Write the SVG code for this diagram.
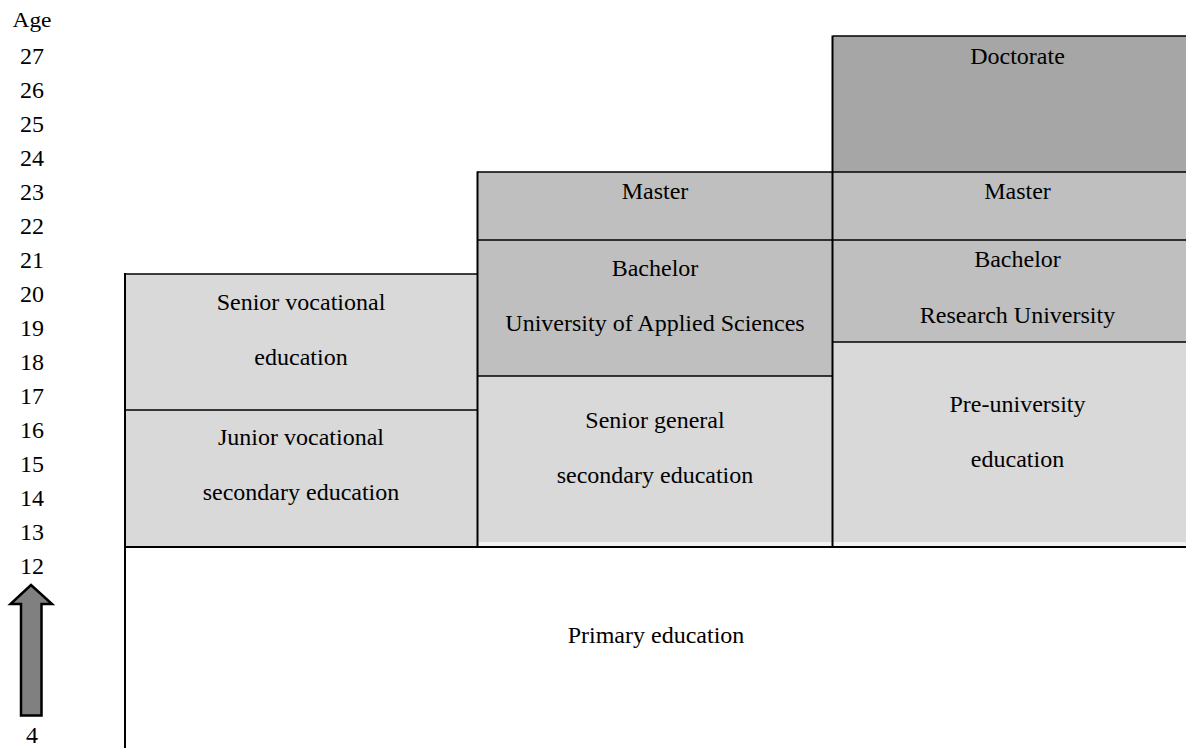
<svg xmlns="http://www.w3.org/2000/svg" width="1186" height="748" viewBox="0 0 1186 748">
  <style>
    .t { font-family: 'Liberation Serif', 'Times New Roman', Tinos, 'DejaVu Serif', serif; font-size: 24px; fill: #000; text-anchor: middle; }
    .light { fill: #d9d9d9; }
    .mid { fill: #bfbfbf; }
    .dark { fill: #a6a6a6; }
    .strip { fill: #f2f2f2; }
    .thin { stroke: #000; stroke-width: 1.5; fill: none; }
    .thick { stroke: #000; stroke-width: 2; fill: none; }
  </style>
  <rect width="1186" height="748" fill="#ffffff"/>

  <g id="age-axis" class="t" font-family="Liberation Serif, Times New Roman, serif">
    <text x="32" y="27" font-size="20" textLength="39" lengthAdjust="spacingAndGlyphs">Age</text>
    <text x="32" y="64">27</text>
    <text x="32" y="98">26</text>
    <text x="32" y="132">25</text>
    <text x="32" y="166">24</text>
    <text x="32" y="200">23</text>
    <text x="32" y="234">22</text>
    <text x="32" y="268">21</text>
    <text x="32" y="302">20</text>
    <text x="32" y="336">19</text>
    <text x="32" y="370">18</text>
    <text x="32" y="404">17</text>
    <text x="32" y="438">16</text>
    <text x="32" y="472">15</text>
    <text x="32" y="506">14</text>
    <text x="32" y="540">13</text>
    <text x="32" y="574">12</text>
    <text x="32" y="743">4</text>
  </g>

  <g id="age-arrow">
    <polygon points="31,585 52,604 41.5,604 41.5,715.5 21,715.5 21,604 10.5,604" fill="#808080" stroke="#000" stroke-width="2.5" stroke-linejoin="miter"/>
  </g>

  <g id="junior-vocational" class="t">
    <rect class="light" x="125" y="410" width="352" height="137"/>
    <text x="301" y="445">Junior vocational</text>
    <text x="301" y="500">secondary education</text>
  </g>
  <g id="senior-vocational" class="t">
    <rect class="light" x="125" y="274" width="352" height="136"/>
    <text x="301" y="310">Senior vocational</text>
    <text x="301" y="365">education</text>
  </g>

  <g id="senior-general" class="t">
    <rect class="light" x="477" y="376" width="356" height="166"/>
    <rect class="strip" x="477" y="542" width="356" height="5"/>
    <text x="655" y="428">Senior general</text>
    <text x="655" y="483">secondary education</text>
  </g>
  <g id="bachelor-applied" class="t">
    <rect class="mid" x="477" y="240" width="356" height="136"/>
    <text x="655" y="276">Bachelor</text>
    <text x="655" y="331">University of Applied Sciences</text>
  </g>
  <g id="master-applied" class="t">
    <rect class="mid" x="477" y="172" width="356" height="68"/>
    <text x="655" y="199">Master</text>
  </g>

  <g id="pre-university" class="t">
    <rect class="light" x="833" y="342" width="353" height="200"/>
    <rect class="strip" x="833" y="542" width="353" height="5"/>
    <text x="1017.5" y="412">Pre-university</text>
    <text x="1017.5" y="467">education</text>
  </g>
  <g id="bachelor-research" class="t">
    <rect class="mid" x="833" y="240" width="353" height="102"/>
    <text x="1017.5" y="267">Bachelor</text>
    <text x="1017.5" y="323">Research University</text>
  </g>
  <g id="master-research" class="t">
    <rect class="mid" x="833" y="172" width="353" height="68"/>
    <text x="1017.5" y="199">Master</text>
  </g>
  <g id="doctorate" class="t">
    <rect class="dark" x="833" y="36" width="353" height="136"/>
    <text x="1017.5" y="64">Doctorate</text>
  </g>

  <g id="primary-education" class="t">
    <text x="656" y="643">Primary education</text>
  </g>

  <g id="borders">
    <line class="thin" x1="125" y1="274" x2="477" y2="274"/>
    <line class="thin" x1="125" y1="410" x2="477" y2="410"/>
    <line class="thin" x1="477" y1="172" x2="1186" y2="172"/>
    <line class="thin" x1="477" y1="240" x2="1186" y2="240"/>
    <line class="thin" x1="477" y1="376" x2="833" y2="376"/>
    <line class="thin" x1="833" y1="342" x2="1186" y2="342"/>
    <line class="thin" x1="833" y1="36" x2="1186" y2="36"/>
    <line class="thick" x1="125" y1="273" x2="125" y2="748"/>
    <line class="thick" x1="477.5" y1="171.5" x2="477.5" y2="547"/>
    <line class="thick" x1="832.5" y1="35.5" x2="832.5" y2="547"/>
    <line class="thick" x1="124" y1="547" x2="1186" y2="547"/>
  </g>
</svg>
